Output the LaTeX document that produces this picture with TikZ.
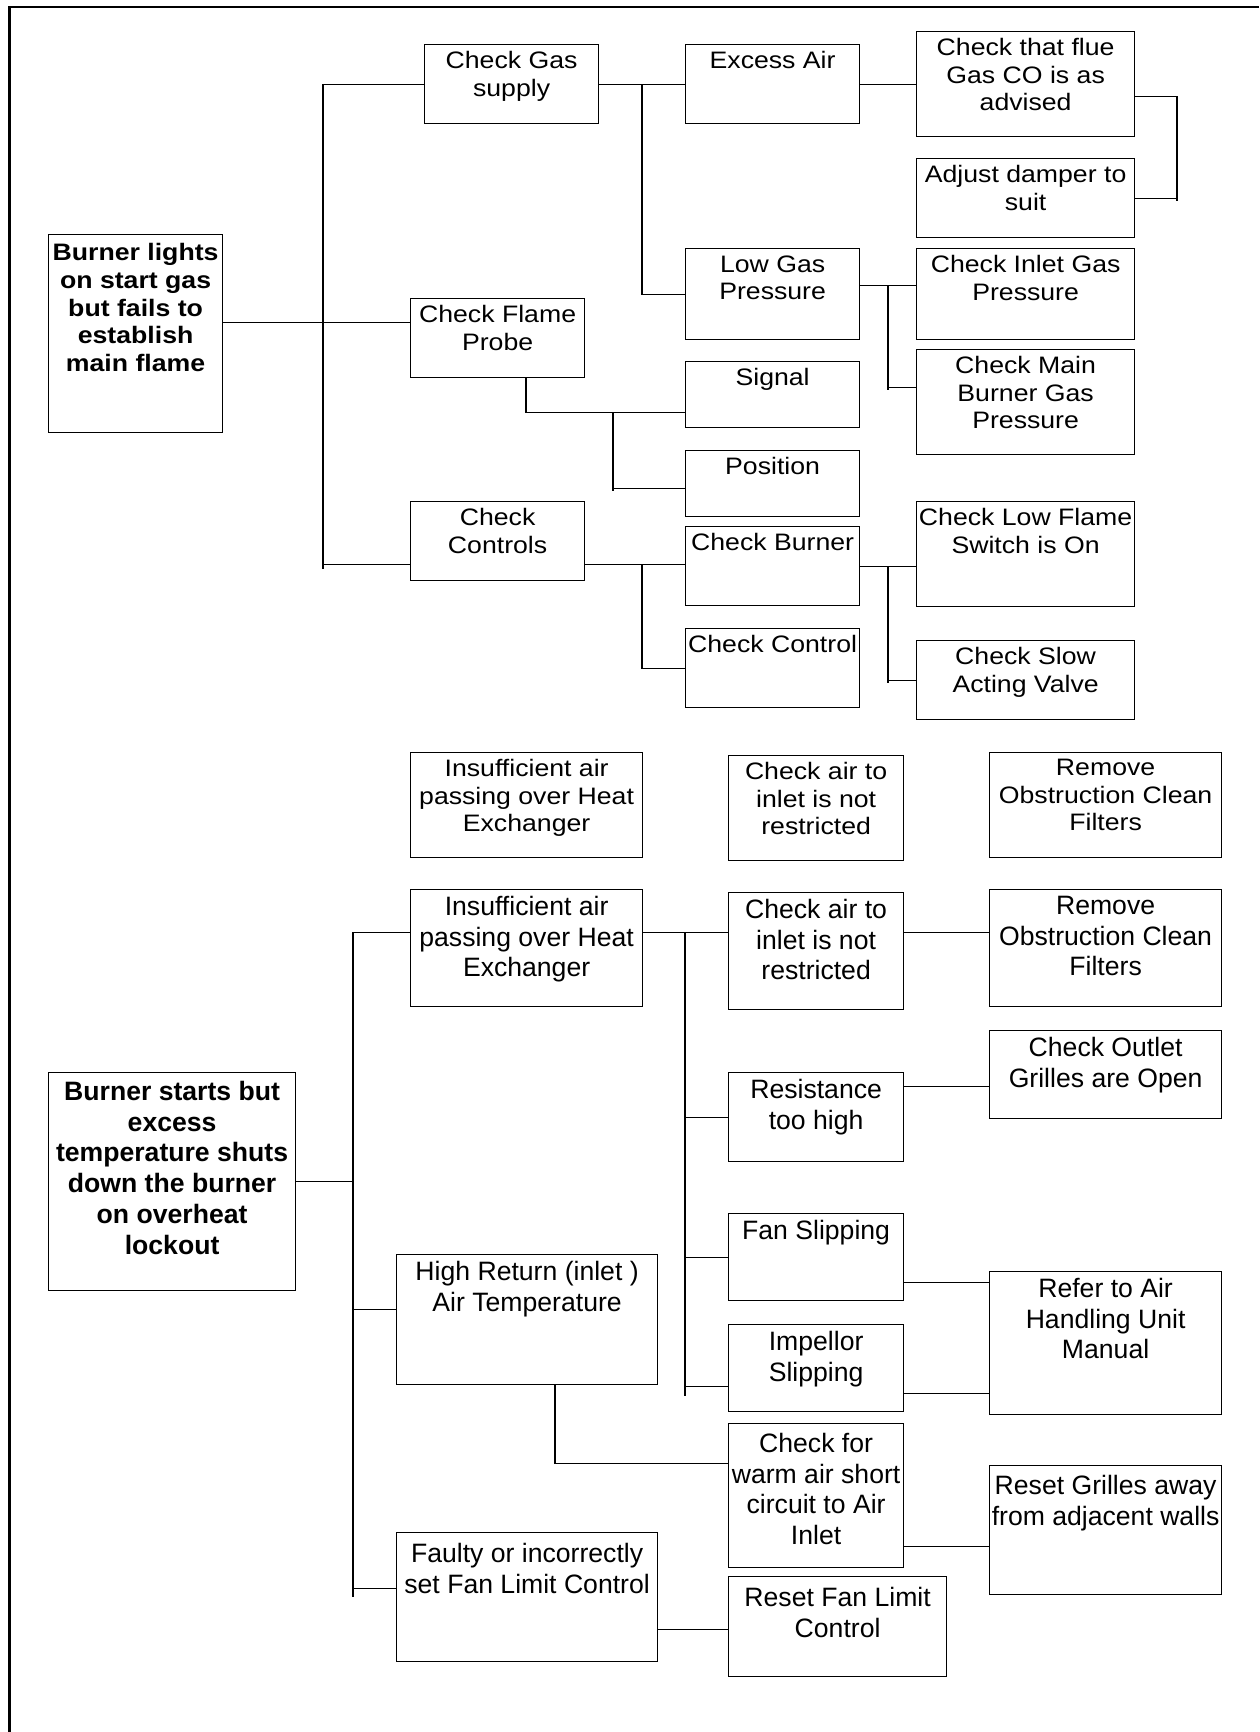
\documentclass[tikz,border=0pt]{standalone}
\usepackage{fontspec}
\usepackage{tikz}
\newfontfamily\chartfont{Liberation Sans}[FakeStretch=1.12]
\newfontfamily\lowfont{Liberation Sans}
\newcommand{\chartsize}{\fontsize{11.9pt}{13.8pt}\selectfont}
\newcommand{\lowsize}{\fontsize{13.3pt}{15.4pt}\selectfont}

\begin{document}
\begin{tikzpicture}[x=0.5pt, y=-0.5pt,
    box/.style 2 args={rectangle, draw, line width=0.6pt, anchor=north west, inner sep=0pt, minimum width=#1*0.5pt, minimum height=#2*0.5pt},
    txt/.style={anchor=north, align=center, inner sep=0pt, yshift=-3.5pt, font=\chartfont\chartsize},
    bold/.style={anchor=north, align=center, inner sep=0pt, yshift=-4.6pt, font=\chartfont\chartsize\bfseries},
    lowtxt/.style={anchor=north, align=center, inner sep=0pt, yshift=-3.3pt, font=\lowfont\lowsize},
    lowbold/.style={anchor=north, align=center, inner sep=0pt, yshift=-4.3pt, font=\lowfont\lowsize\bfseries},
    link/.style={line width=0.55pt},
    frame/.style={line width=1.25pt}]
    \useasboundingbox (0,0) rectangle (1259,1732);
    \draw[frame] (9.3,1732) |- (1259,6.8);
    %
    % gas burner fault
    \node[box={174}{198}, label={[bold]north:Burner lights\\on start gas\\but fails to\\establish\\main flame}] (b1) at (48,234) {};
    \node[box={174}{79}, label={[txt]north:Check Gas\\supply}] (gas) at (424,44) {};
    \node[box={174}{79}, label={[txt]north:Check Flame\\Probe}] (probe) at (410,298) {};
    \node[box={174}{79}, label={[txt]north:Check\\Controls}] (controls) at (410,501) {};
    %
    \node[box={174}{79}, label={[txt]north:Excess Air}] (excess) at (685,44) {};
    \node[box={174}{91}, label={[txt]north:Low Gas\\Pressure}] (lowgas) at (685,248) {};
    \node[box={174}{66}, label={[txt]north:Signal}] (signal) at (685,361) {};
    \node[box={174}{66}, label={[txt]north:Position}] (position) at (685,450) {};
    \node[box={174}{79}, label={[txt]north:Check Burner}] (burner) at (685,526) {};
    \node[box={174}{79}, label={[txt]north:Check Control}] (control) at (685,628) {};
    %
    \node[box={218}{105}, label={[txt]north:Check that flue\\Gas CO is as\\advised}] (flue) at (916,31) {};
    \node[box={218}{79}, label={[txt]north:Adjust damper to\\suit}] (damper) at (916,158) {};
    \node[box={218}{91}, label={[txt]north:Check Inlet Gas\\Pressure}] (inlet) at (916,248) {};
    \node[box={218}{105}, label={[txt]north:Check Main\\Burner Gas\\Pressure}] (mainp) at (916,349) {};
    \node[box={218}{105}, label={[txt]north:Check Low Flame\\Switch is On}] (lowflame) at (916,501) {};
    \node[box={218}{79}, label={[txt]north:Check Slow\\Acting Valve}] (slow) at (916,640) {};
    %
    \node[box={232}{105}, label={[txt]north:Insufficient air\\passing over Heat\\Exchanger}] (ins0) at (410,752) {};
    \node[box={175}{105}, label={[txt]north:Check air to\\inlet is not\\restricted}] (air0) at (728,755) {};
    \node[box={232}{105}, label={[txt]north:Remove\\Obstruction Clean\\Filters}] (rem0) at (989,752) {};
    %
    % overheat fault
    \node[box={247}{218}, label={[lowbold]north:Burner starts but\\excess\\temperature shuts\\down the burner\\on overheat\\lockout}] (b2) at (48,1072) {};
    \node[box={232}{117}, label={[lowtxt]north:Insufficient air\\passing over Heat\\Exchanger}] (ins) at (410,889) {};
    \node[box={261}{130}, label={[lowtxt]north:High Return (inlet )\\Air Temperature}] (highret) at (396,1254) {};
    \node[box={261}{129}, label={[lowtxt, yshift=-2pt]north:Faulty or incorrectly\\set Fan Limit Control}] (faulty) at (396,1532) {};
    %
    \node[box={175}{117}, label={[lowtxt]north:Check air to\\inlet is not\\restricted}] (air) at (728,892) {};
    \node[box={175}{89}, label={[lowtxt]north:Resistance\\too high}] (resist) at (728,1072) {};
    \node[box={175}{87}, label={[lowtxt]north:Fan Slipping}] (fan) at (728,1213) {};
    \node[box={175}{87}, label={[lowtxt]north:Impellor\\Slipping}] (impellor) at (728,1324) {};
    \node[box={175}{144}, label={[lowtxt, yshift=-1.5pt]north:Check for\\warm air short\\circuit to Air\\Inlet}] (warm) at (728,1423) {};
    \node[box={218}{100}, label={[lowtxt, yshift=-2.3pt]north:Reset Fan Limit\\Control}] (resetfan) at (728,1576) {};
    %
    \node[box={232}{117}, label={[lowtxt]north:Remove\\Obstruction Clean\\Filters}] (rem) at (989,889) {};
    \node[box={232}{88}, label={[lowtxt]north:Check Outlet\\Grilles are Open}] (outlet) at (989,1030) {};
    \node[box={232}{143}, label={[lowtxt]north:Refer to Air\\Handling Unit\\Manual}] (refer) at (989,1271) {};
    \node[box={232}{129}, label={[lowtxt, yshift=-1.5pt]north:Reset Grilles away\\from adjacent walls}] (grilles) at (989,1465) {};
    %
    % bus lines end here
    \coordinate (busA) at (323,569);
    \coordinate (busB) at (642,293.5);
    \coordinate (busC) at (1177,201);
    \coordinate (busD) at (888,390);
    \coordinate (busE) at (526,412);
    \coordinate (busF) at (613,491);
    \coordinate (busG) at (642,669);
    \coordinate (busH) at (888,683);
    \coordinate (busI) at (353,1597);
    \coordinate (busJ) at (685,1396);
    \coordinate (busK) at (555,1466);
    %
    \begin{scope}[link]
        \draw (gas.west) -| (busA);
        \draw ([yshift=5.5pt]b1.east) -- ([yshift=5.5pt]b1.east -| probe.west);
        \draw ([yshift=-11.75pt]controls.west) -- ([yshift=-11.75pt]controls.west -| busA);
        %
        \draw (gas.east) -- (excess.west);
        \draw (gas.east -| busB) |- (lowgas.west);
        \draw (excess.east) -- (flue.west);
        \draw ([yshift=-6.25pt]flue.east) -| (busC);
        \draw (damper.east) -- (damper.east -| busC);
        %
        \draw ([yshift=4.25pt]lowgas.east) -- ([yshift=4.25pt]inlet.west);
        \draw ([yshift=4.25pt]inlet.west -| busD) -- (busD);
        \draw ([yshift=7.25pt]mainp.west) -- ([yshift=7.25pt]mainp.west -| busD);
        %
        \draw (probe.south -| busE) |- ([yshift=-9pt]signal.west);
        \draw ([yshift=-9pt]signal.west -| busF) -- (busF);
        \draw ([yshift=-2.5pt]position.west) -- ([yshift=-2.5pt]position.west -| busF);
        %
        \draw ([yshift=-11.75pt]controls.east) -- ([yshift=-11.75pt]controls.east -| burner.west);
        \draw ([yshift=-11.75pt]controls.east -| busG) -- (busG);
        \draw (control.west) -- (control.west -| busG);
        \draw (burner.east) -- (burner.east -| lowflame.west);
        \draw (burner.east -| busH) -- (busH);
        \draw (slow.west) -- (slow.west -| busH);
        %
        \draw ([yshift=7.75pt]ins.west) -| (busI);
        \draw (b2.east) -- (b2.east -| busI);
        \draw ([yshift=5pt]highret.west) -- ([yshift=5pt]highret.west -| busI);
        \draw ([yshift=4.25pt]faulty.west) -- ([yshift=4.25pt]faulty.west -| busI);
        %
        \draw ([yshift=7.75pt]ins.east) -- ([yshift=7.75pt]ins.east -| air.west);
        \draw ([yshift=7.75pt]ins.east -| busJ) -- (busJ);
        \draw (resist.west) -- (resist.west -| busJ);
        \draw (fan.west) -- (fan.west -| busJ);
        \draw ([yshift=-9.25pt]impellor.west) -- ([yshift=-9.25pt]impellor.west -| busJ);
        \draw ([yshift=7.75pt]rem.west -| air.east) -- ([yshift=7.75pt]rem.west);
        %
        \draw ([yshift=15.25pt]resist.east) -- ([yshift=15.25pt]resist.east -| outlet.west);
        \draw ([yshift=-12.75pt]fan.east) -- ([yshift=-12.75pt]fan.east -| refer.west);
        \draw ([yshift=-12.75pt]impellor.east) -- ([yshift=-12.75pt]impellor.east -| refer.west);
        \draw (highret.south -| busK) |- ([yshift=16pt]warm.west);
        \draw ([yshift=-25.5pt]warm.east) -- ([yshift=-25.5pt]warm.east -| grilles.west);
        \draw ([yshift=-16.25pt]faulty.east) -- ([yshift=-16.25pt]faulty.east -| resetfan.west);
    \end{scope}
\end{tikzpicture}
\end{document}
